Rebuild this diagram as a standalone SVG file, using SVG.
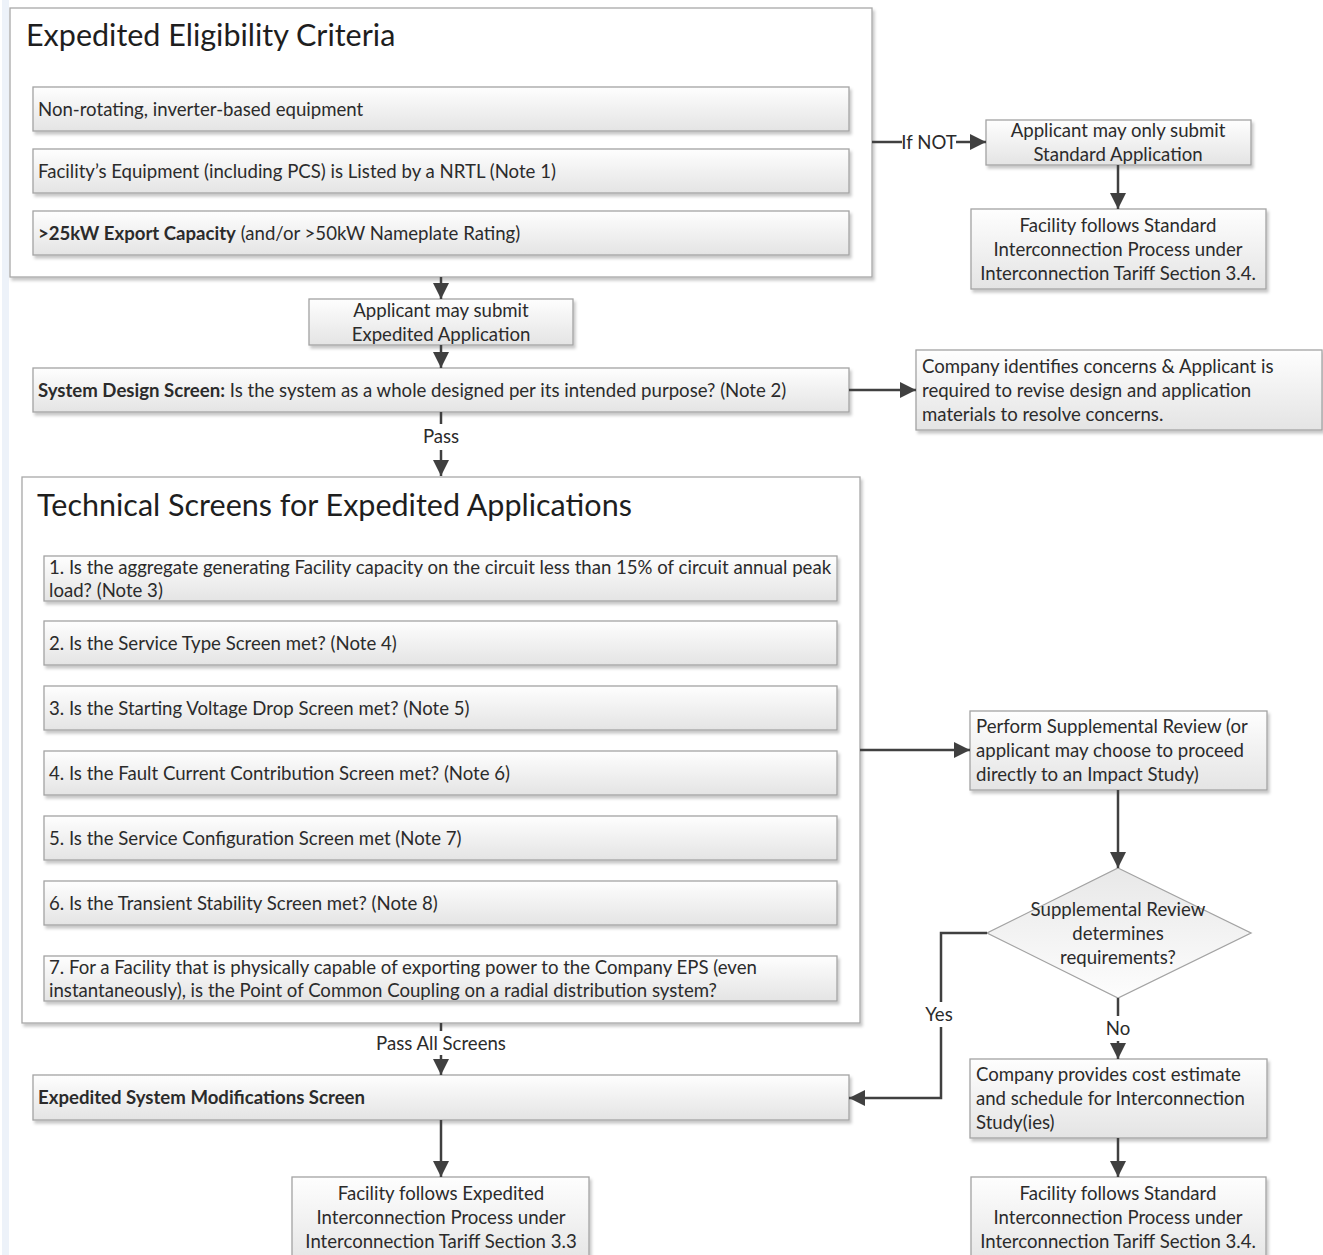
<svg xmlns="http://www.w3.org/2000/svg" width="1323" height="1255" viewBox="0 0 1323 1255">
<style>
text{font-family:Lato,"Liberation Sans",sans-serif;fill:#2b2b2b;font-size:18.6px}
.t{font-size:30.5px;fill:#1e1e1e}
.c{text-anchor:middle}
.b{font-weight:bold}
.box{fill:url(#g);stroke:#a3a3a3;stroke-width:1.3;filter:url(#sh)}
.cont{fill:#fff;stroke:#a8a8a8;stroke-width:1.3;filter:url(#sh)}
.ln{fill:none;stroke:#404040;stroke-width:2.5}
.ar{marker-end:url(#ah)}
</style>
<defs>
<linearGradient id="g" x1="0" y1="0" x2="0" y2="1"><stop offset="0" stop-color="#fefefe"/><stop offset="1" stop-color="#e4e4e4"/></linearGradient>
<linearGradient id="gd" x1="0" y1="0" x2="0" y2="1"><stop offset="0" stop-color="#e8e8e8"/><stop offset="1" stop-color="#fdfdfd"/></linearGradient>
<filter id="sh" x="-5%" y="-10%" width="110%" height="130%"><feDropShadow dx="2" dy="3" stdDeviation="1.5" flood-color="#000" flood-opacity="0.22"/></filter>
<marker id="ah" markerUnits="userSpaceOnUse" markerWidth="18" markerHeight="16" refX="16" refY="8" orient="auto"><path d="M0,0 L16,8 L0,16 Z" fill="#404040"/></marker>
</defs>
<rect x="0" y="0" width="1323" height="1255" fill="#fff"/>
<rect x="2" y="0" width="7" height="1255" fill="#edf2f9"/>

<g id="eligibility">
<rect class="cont" x="10" y="8" width="862" height="269"/>
<text class="t" x="26" y="46">Expedited Eligibility Criteria</text>
</g>
<g id="crit1"><rect class="box" x="33" y="87" width="816" height="44"/><text x="38" y="116">Non-rotating, inverter-based equipment</text></g>
<g id="crit2"><rect class="box" x="33" y="149" width="816" height="44"/><text x="38" y="178">Facility’s Equipment (including PCS) is Listed by a NRTL (Note 1)</text></g>
<g id="crit3"><rect class="box" x="33" y="211" width="816" height="44"/><text x="38" y="240"><tspan class="b">&gt;25kW Export Capacity</tspan> (and/or &gt;50kW Nameplate Rating)</text></g>

<g id="onlyStandard"><rect class="box" x="986" y="120" width="265" height="45"/><text class="c" x="1118" y="137">Applicant may only submit</text><text class="c" x="1118" y="161">Standard Application</text></g>
<g id="standard1"><rect class="box" x="971" y="209" width="295" height="80"/><text class="c" x="1118" y="232">Facility follows Standard</text><text class="c" x="1118" y="256">Interconnection Process under</text><text class="c" x="1118" y="280">Interconnection Tariff Section 3.4.</text></g>

<g id="mayExpedited"><rect class="box" x="309" y="299" width="264" height="46"/><text class="c" x="441" y="317">Applicant may submit</text><text class="c" x="441" y="341">Expedited Application</text></g>
<g id="systemDesign"><rect class="box" x="33" y="368" width="816" height="44"/><text x="38" y="397"><tspan class="b">System Design Screen:</tspan> Is the system as a whole designed per its intended purpose? (Note 2)</text></g>
<g id="concerns"><rect class="box" x="916" y="350" width="406" height="80"/><text x="922" y="373">Company identifies concerns &amp; Applicant is</text><text x="922" y="397">required to revise design and application</text><text x="922" y="421">materials to resolve concerns.</text></g>

<g id="technical">
<rect class="cont" x="22" y="477" width="838" height="546"/>
<text class="t" x="37" y="516">Technical Screens for Expedited Applications</text>
</g>
<g id="s1"><rect class="box" x="44" y="556" width="793" height="45"/><text x="49" y="574">1. Is the aggregate generating Facility capacity on the circuit less than 15% of circuit annual peak</text><text x="49" y="597">load? (Note 3)</text></g>
<g id="s2"><rect class="box" x="44" y="621" width="793" height="44"/><text x="49" y="650">2. Is the Service Type Screen met? (Note 4)</text></g>
<g id="s3"><rect class="box" x="44" y="686" width="793" height="44"/><text x="49" y="715">3. Is the Starting Voltage Drop Screen met? (Note 5)</text></g>
<g id="s4"><rect class="box" x="44" y="751" width="793" height="44"/><text x="49" y="780">4. Is the Fault Current Contribution Screen met? (Note 6)</text></g>
<g id="s5"><rect class="box" x="44" y="816" width="793" height="44"/><text x="49" y="845">5. Is the Service Configuration Screen met (Note 7)</text></g>
<g id="s6"><rect class="box" x="44" y="881" width="793" height="44"/><text x="49" y="910">6. Is the Transient Stability Screen met? (Note 8)</text></g>
<g id="s7"><rect class="box" x="44" y="956" width="793" height="45"/><text x="49" y="974">7. For a Facility that is physically capable of exporting power to the Company EPS (even</text><text x="49" y="997">instantaneously), is the Point of Common Coupling on a radial distribution system?</text></g>

<g id="supplemental"><rect class="box" x="970" y="711" width="297" height="79"/><text x="976" y="733">Perform Supplemental Review (or</text><text x="976" y="757">applicant may choose to proceed</text><text x="976" y="781">directly to an Impact Study)</text></g>
<g id="decision"><polygon points="1118,868 1251,933 1118,998 987,933" fill="url(#gd)" stroke="#a3a3a3" stroke-width="1.3"/><text class="c" x="1118" y="916">Supplemental Review</text><text class="c" x="1118" y="940">determines</text><text class="c" x="1118" y="964">requirements?</text></g>
<g id="costEstimate"><rect class="box" x="970" y="1059" width="297" height="79"/><text x="976" y="1081">Company provides cost estimate</text><text x="976" y="1105">and schedule for Interconnection</text><text x="976" y="1129">Study(ies)</text></g>
<g id="standard2"><rect class="box" x="971" y="1177" width="295" height="90"/><text class="c" x="1118" y="1200">Facility follows Standard</text><text class="c" x="1118" y="1224">Interconnection Process under</text><text class="c" x="1118" y="1248">Interconnection Tariff Section 3.4.</text></g>

<g id="sysMod"><rect class="box" x="33" y="1075" width="816" height="45"/><text class="b" x="38" y="1104">Expedited System Modifications Screen</text></g>
<g id="expedited"><rect class="box" x="292" y="1177" width="297" height="90"/><text class="c" x="441" y="1200">Facility follows Expedited</text><text class="c" x="441" y="1224">Interconnection Process under</text><text class="c" x="441" y="1248">Interconnection Tariff Section 3.3</text></g>

<g id="connectors">
<line class="ln" x1="872" y1="142" x2="902" y2="142"/>
<text class="c" x="929" y="149">If NOT</text>
<line class="ln ar" x1="956" y1="142" x2="986" y2="142"/>
<line class="ln ar" x1="1118" y1="165" x2="1118" y2="209"/>
<line class="ln ar" x1="441" y1="277" x2="441" y2="299"/>
<line class="ln ar" x1="441" y1="345" x2="441" y2="368"/>
<line class="ln ar" x1="849" y1="390" x2="916" y2="390"/>
<line class="ln" x1="441" y1="412" x2="441" y2="424"/>
<text class="c" x="441" y="443">Pass</text>
<line class="ln ar" x1="441" y1="450" x2="441" y2="476"/>
<line class="ln ar" x1="860" y1="750" x2="970" y2="750"/>
<line class="ln ar" x1="1118" y1="790" x2="1118" y2="868"/>
<polyline class="ln" points="987,933 941,933 941,1002"/>
<text class="c" x="939" y="1021">Yes</text>
<polyline class="ln ar" points="941,1027 941,1098 849,1098"/>
<line class="ln" x1="1118" y1="998" x2="1118" y2="1016"/>
<text class="c" x="1118" y="1035">No</text>
<line class="ln ar" x1="1118" y1="1041" x2="1118" y2="1059"/>
<line class="ln ar" x1="1118" y1="1138" x2="1118" y2="1177"/>
<line class="ln" x1="441" y1="1023" x2="441" y2="1031"/>
<text class="c" x="441" y="1050">Pass All Screens</text>
<line class="ln ar" x1="441" y1="1055" x2="441" y2="1075"/>
<line class="ln ar" x1="441" y1="1120" x2="441" y2="1177"/>
</g>
</svg>
